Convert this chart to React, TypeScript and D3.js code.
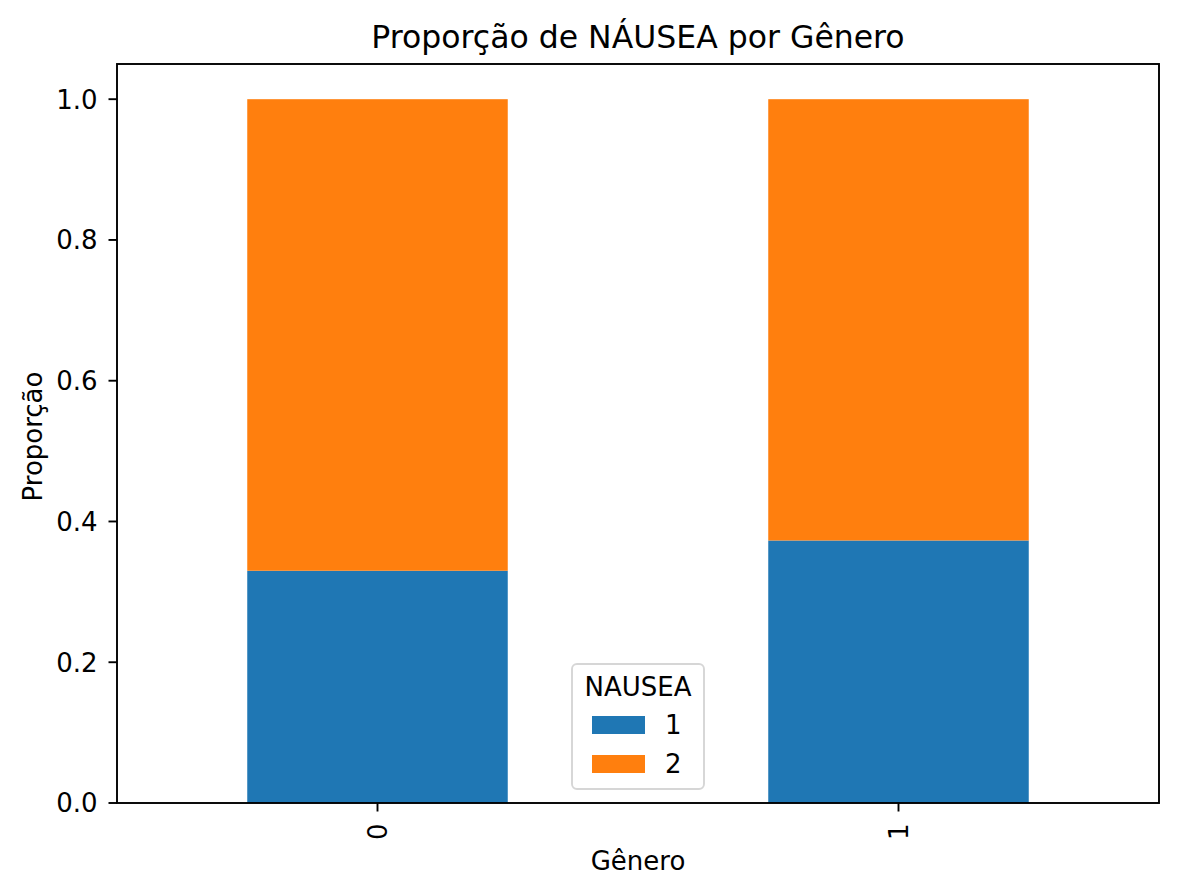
import { scaleBand, scaleLinear, stack } from "d3";

// chart values
const genders = ["0", "1"];
const nauseaLevels = ["1", "2"];
const nausea1 = [0.33, 0.373];
const nausea2 = [0.67, 0.627];
const yTicks = [0, 0.2, 0.4, 0.6, 0.8, 1.0];
const colors = ["#1f77b4", "#ff7f0e"];

const W = 1177;
const H = 895;
const margin = { left: 117, right: 18, top: 64, bottom: 92 };
const font = "DejaVu Sans";
const fs = 26;

function App() {
  const x = scaleBand()
    .domain(genders)
    .range([margin.left, W - margin.right])
    .paddingInner(0.5)
    .paddingOuter(0.25);

  const y = scaleLinear()
    .domain([0, 1.05])
    .range([H - margin.bottom, margin.top]);

  const rows = genders.map((g, i) => ({
    genero: g,
    "1": nausea1[i],
    "2": nausea2[i],
  }));
  const layers = stack<any>().keys(nauseaLevels)(rows);

  const x0 = margin.left;
  const x1 = W - margin.right;
  const y0 = H - margin.bottom;
  const y1 = margin.top;
  const cx = (x0 + x1) / 2;
  const tickLen = 8.5;

  // legend box (matplotlib "best" put it at lower center)
  const lg = { x: 572, y: 664, w: 132, h: 125 };

  return (
    <div style={{ position: "absolute", left: 0, top: 0 }}>
      <svg width={W} height={H} style={{ display: "block", background: "#fff" }}>
        {layers.map((layer, li) => (
          <g key={layer.key} fill={colors[li]}>
            {layer.map((d: any) => (
              <rect
                key={d.data.genero}
                x={x(d.data.genero)}
                y={y(d[1])}
                width={x.bandwidth()}
                height={y(d[0]) - y(d[1])}
              />
            ))}
          </g>
        ))}

        {/* y axis */}
        {yTicks.map((t) => (
          <g key={t}>
            <line x1={x0 - tickLen} x2={x0} y1={y(t)} y2={y(t)} stroke="#000" strokeWidth={1.9} />
            <text
              x={x0 - tickLen - 11}
              y={y(t)}
              dy="0.36em"
              textAnchor="end"
              fontFamily={font}
              fontSize={fs}
            >
              {t.toFixed(1)}
            </text>
          </g>
        ))}

        {/* x axis */}
        {genders.map((g) => {
          const gx = x(g)! + x.bandwidth() / 2;
          return (
            <g key={g}>
              <line x1={gx} x2={gx} y1={y0} y2={y0 + tickLen} stroke="#000" strokeWidth={1.9} />
              <text
                transform={`translate(${gx},${y0 + tickLen + 12}) rotate(-90)`}
                dy="0.36em"
                textAnchor="end"
                fontFamily={font}
                fontSize={fs}
              >
                {g}
              </text>
            </g>
          );
        })}

        <rect
          x={x0}
          y={y1}
          width={x1 - x0}
          height={y0 - y1}
          fill="none"
          stroke="#000"
          strokeWidth={1.9}
        />

        <text x={cx} y={870} textAnchor="middle" fontFamily={font} fontSize={fs}>
          Gênero
        </text>
        <text
          transform={`translate(42,${(y0 + y1) / 2 + 3}) rotate(-90)`}
          textAnchor="middle"
          fontFamily={font}
          fontSize={fs}
        >
          Proporção
        </text>
        <text x={cx} y={48} textAnchor="middle" fontFamily={font} fontSize={31.5}>
          Proporção de NÁUSEA por Gênero
        </text>

        {/* legend */}
        <g>
          <rect
            x={lg.x}
            y={lg.y}
            width={lg.w}
            height={lg.h}
            rx={5}
            fill="#fff"
            fillOpacity={0.8}
            stroke="#d6d6d6"
            strokeWidth={1.9}
          />
          <text x={lg.x + lg.w / 2} y={696} textAnchor="middle" fontFamily={font} fontSize={fs}>
            NAUSEA
          </text>
          {nauseaLevels.map((k, i) => (
            <g key={k} transform={`translate(${lg.x + 20},${716 + i * 39})`}>
              <rect width={53} height={18} fill={colors[i]} />
              <text x={73} y={9} dy="0.36em" fontFamily={font} fontSize={fs}>
                {k}
              </text>
            </g>
          ))}
        </g>
      </svg>
    </div>
  );
}

export default App;
